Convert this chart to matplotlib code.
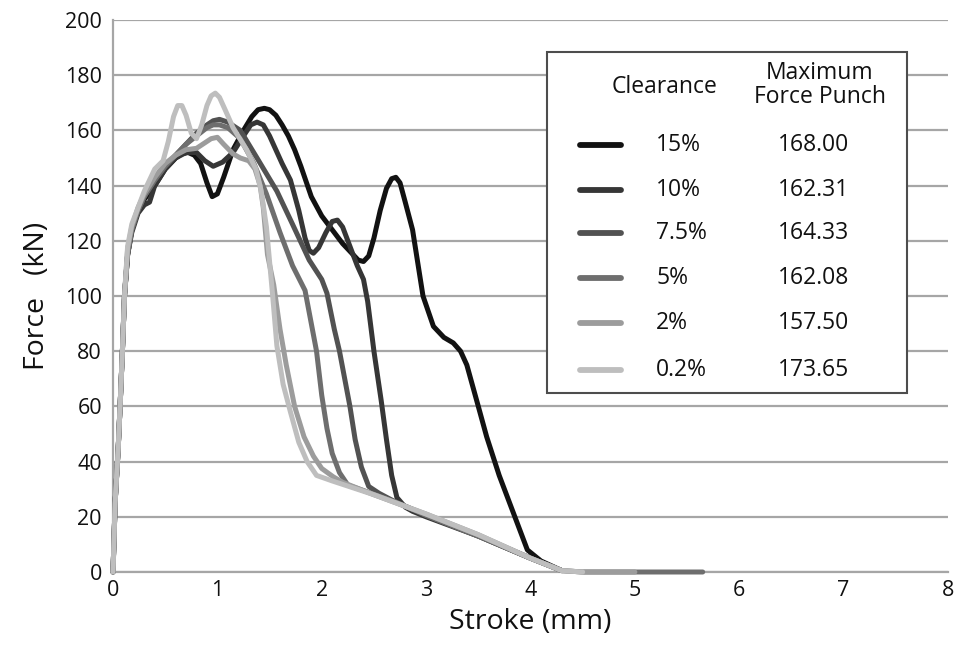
import matplotlib
matplotlib.use("Agg")
import matplotlib.pyplot as plt
from matplotlib.lines import Line2D
from matplotlib.patches import Rectangle

plt.rcParams['font.family'] = ['Open Sans', 'DejaVu Sans']

# ---------------- data ----------------
clearances = ["15%", "10%", "7.5%", "5%", "2%", "0.2%"]
max_force = ["168.00", "162.31", "164.33", "162.08", "157.50", "173.65"]
colors = ["#121212", "#363636", "#525252", "#6e6e6e", "#9c9c9c", "#bebebe"]

x_15 = [0, 0.01, 0.02, 0.035, 0.05, 0.07, 0.09, 0.11, 0.14, 0.18, 0.24, 0.3, 0.4, 0.5, 0.6, 0.66, 0.72,
        0.78, 0.84, 0.9, 0.95, 1.0, 1.06, 1.15, 1.25, 1.33, 1.39, 1.45, 1.5, 1.56, 1.62, 1.68, 1.74, 1.8,
        1.9, 2.0, 2.1, 2.2, 2.3, 2.35, 2.4, 2.45, 2.5, 2.56, 2.62, 2.67, 2.71, 2.75, 2.8, 2.87, 2.97,
        3.07, 3.17, 3.26, 3.33, 3.39, 3.5, 3.58, 3.7, 3.85, 3.97, 4.1, 4.3]
y_15 = [0, 12, 25, 35, 45, 62, 80, 100, 115, 124, 131, 135, 140, 146, 150, 151.5, 152,
        151, 148, 141, 136, 137, 143, 153, 160, 165, 167.5, 168, 167.5, 165.5, 162, 158, 153, 147,
        136, 129, 124, 119, 115, 113, 112.5, 114.5, 121, 131, 139, 142.5, 143, 141, 134, 124, 100,
        89, 85, 83, 80, 75, 60, 49, 35, 20, 8, 4, 0.5]

x_10 = [0, 0.01, 0.02, 0.035, 0.05, 0.07, 0.09, 0.11, 0.14, 0.18, 0.24, 0.3, 0.35, 0.4, 0.5, 0.6, 0.7, 0.8,
        0.88, 0.96, 1.05, 1.15, 1.25, 1.32, 1.38, 1.44, 1.5, 1.56, 1.62, 1.7, 1.78, 1.84, 1.88, 1.92, 1.97,
        2.04, 2.1, 2.15, 2.2, 2.28, 2.34, 2.4, 2.44, 2.5, 2.57, 2.62, 2.67, 2.72, 2.8, 2.87, 3.0, 3.5, 4.0,
        4.3]
y_10 = [0, 12, 25, 35, 45, 62, 80, 100, 115, 123, 130, 133, 134, 140, 146, 150, 152, 152,
        149, 147, 148.5, 152, 158, 162, 163, 162, 158, 153, 148, 142, 131, 121, 116.5, 115.5, 117.5,
        123, 127, 127.5, 125, 117, 111, 106, 98, 80, 62, 48, 35, 27, 23.5, 22, 20, 13, 5,
        0.5]

x_75 = [0, 0.01, 0.02, 0.035, 0.05, 0.07, 0.09, 0.11, 0.14, 0.18, 0.24, 0.3, 0.4, 0.5, 0.6, 0.7, 0.8, 0.9,
        0.96, 1.02, 1.1, 1.22, 1.38, 1.57, 1.72, 1.88, 2.0, 2.05, 2.12, 2.17, 2.22, 2.27, 2.32, 2.38, 2.45,
        2.55, 2.7, 3.0, 3.5, 4.0, 4.3]
y_75 = [0, 12, 25, 35, 45, 62, 80, 100, 115, 124, 131, 136, 142, 147, 151, 155, 159, 162,
        163.5, 164, 163, 160, 150, 138, 126, 113, 106, 101, 88, 80, 70, 60, 48, 38, 31,
        28.5, 25.5, 20.5, 13, 5, 0.5]

x_5 = [0, 0.01, 0.02, 0.035, 0.05, 0.07, 0.09, 0.11, 0.14, 0.18, 0.24, 0.3, 0.4, 0.5, 0.6, 0.7, 0.8, 0.9,
       0.96, 1.02, 1.1, 1.22, 1.35, 1.47, 1.6, 1.72, 1.84, 1.9, 1.95, 2.0, 2.05, 2.1, 2.17, 2.25, 2.4, 2.7,
       3.0, 3.5, 4.0, 4.3, 4.5, 5.0, 5.65]
y_5 = [0, 12, 25, 35, 45, 62, 80, 100, 115, 124, 131, 136, 142, 147, 151, 155, 158, 161,
       162, 162, 161, 157, 148, 137, 123, 111, 102, 90, 80, 64, 52, 43, 36, 31.5, 29.5, 25.5,
       20.5, 13, 5, 0.5, 0, 0, 0]

x_2 = [0, 0.01, 0.02, 0.035, 0.05, 0.07, 0.09, 0.11, 0.14, 0.18, 0.24, 0.3, 0.4, 0.5, 0.6, 0.7, 0.8, 0.88,
       0.94, 1.0, 1.06, 1.15, 1.22, 1.3, 1.36, 1.41, 1.44, 1.48, 1.54, 1.6, 1.66, 1.74, 1.83, 1.92, 2.0,
       2.11, 2.2, 2.5, 3.0, 3.5, 4.0, 4.3, 4.5, 5.0]
y_2 = [0, 12, 25, 35, 45, 62, 80, 100, 117, 125, 132, 137, 143, 148, 151, 153, 153.5, 155.5,
       157, 157.5, 155, 151.5, 150, 149, 146, 140, 132, 115, 104, 88, 75, 60, 49, 42, 37.5,
       34.5, 32.5, 28, 21, 13.5, 5, 0.5, 0, 0]

x_02 = [0, 0.01, 0.02, 0.035, 0.05, 0.07, 0.09, 0.11, 0.14, 0.18, 0.24, 0.3, 0.4, 0.48, 0.53, 0.58, 0.62,
        0.66, 0.7, 0.75, 0.8, 0.85, 0.9, 0.94, 0.98, 1.02, 1.08, 1.15, 1.28, 1.37, 1.42, 1.47, 1.53, 1.57,
        1.63, 1.7, 1.78, 1.86, 1.95, 2.1, 2.5, 3.0, 3.5, 4.0, 4.3, 4.5]
y_02 = [0, 12, 25, 35, 45, 62, 80, 100, 118, 126, 132, 138, 146, 149, 156, 165, 169,
        169, 165.5, 159, 157, 162, 169, 172.5, 173.5, 172, 167, 161, 153, 146, 138, 125, 100, 82,
        68, 58, 47, 40, 35, 33, 28, 21, 13.5, 5, 0.5, 0]

series_x = [x_15, x_10, x_75, x_5, x_2, x_02]
series_y = [y_15, y_10, y_75, y_5, y_2, y_02]

x_ticks = [0, 1, 2, 3, 4, 5, 6, 7, 8]
y_ticks = [0, 20, 40, 60, 80, 100, 120, 140, 160, 180, 200]

# ---------------- figure ----------------
W, H = 955, 645
fig = plt.figure(figsize=(W / 100, H / 100), dpi=100)
ax = fig.add_axes([113 / W, 1 - 572 / H, (948 - 113) / W, (572 - 20) / H])

txt_c = "#111111"
grid_c = "#a6a6a6"
ax.set_xlim(0, 8)
ax.set_ylim(0, 200)
ax.set_xticks(x_ticks)
ax.set_yticks(y_ticks)
ax.yaxis.grid(True, color=grid_c, linewidth=1.6)
ax.set_axisbelow(True)
for s in ["top", "right"]:
    ax.spines[s].set_visible(False)
for s in ["left", "bottom"]:
    ax.spines[s].set_color(grid_c)
    ax.spines[s].set_linewidth(1.6)
ax.tick_params(axis="both", length=0, labelsize=15.5, colors=txt_c, pad=8)
ax.tick_params(axis="x", pad=6)

for xs, ys, c in zip(series_x, series_y, colors):
    ax.plot(xs, ys, color=c, linewidth=3.6, solid_joinstyle="round",
            solid_capstyle="round", clip_on=False, zorder=3)

ax.set_xlabel("Stroke (mm)", fontsize=20.5, color=txt_c, labelpad=5)
ax.set_ylabel("Force   (kN)", fontsize=20.5, color=txt_c, labelpad=10)

# ---------------- legend table ----------------
def fx(px):
    return px / W

def fy(py):
    return 1 - py / H

fig.patches.append(Rectangle((fx(547), fy(393)), fx(907) - fx(547), fy(52) - fy(393),
                             transform=fig.transFigure, facecolor="white",
                             edgecolor="#4d4d4d", linewidth=1.5, zorder=5))
fs = 16.5
fig.text(fx(665), fy(87), "Clearance", ha="center", va="center", fontsize=fs, color=txt_c, zorder=6)
fig.text(fx(820), fy(73), "Maximum", ha="center", va="center", fontsize=fs, color=txt_c, zorder=6)
fig.text(fx(820), fy(97), "Force Punch", ha="center", va="center", fontsize=fs, color=txt_c, zorder=6)

row_y = [145, 190, 233, 278, 323, 370]
for lab, val, c, ry in zip(clearances, max_force, colors, row_y):
    fig.add_artist(Line2D([fx(580), fx(621)], [fy(ry), fy(ry)], transform=fig.transFigure,
                          color=c, linewidth=4.2, solid_capstyle="round", zorder=6))
    fig.text(fx(656), fy(ry), lab, ha="left", va="center", fontsize=fs, color=txt_c, zorder=6)
    fig.text(fx(814), fy(ry), val, ha="center", va="center", fontsize=fs, color=txt_c, zorder=6)

fig.savefig("out.png", dpi=100, facecolor="white")
